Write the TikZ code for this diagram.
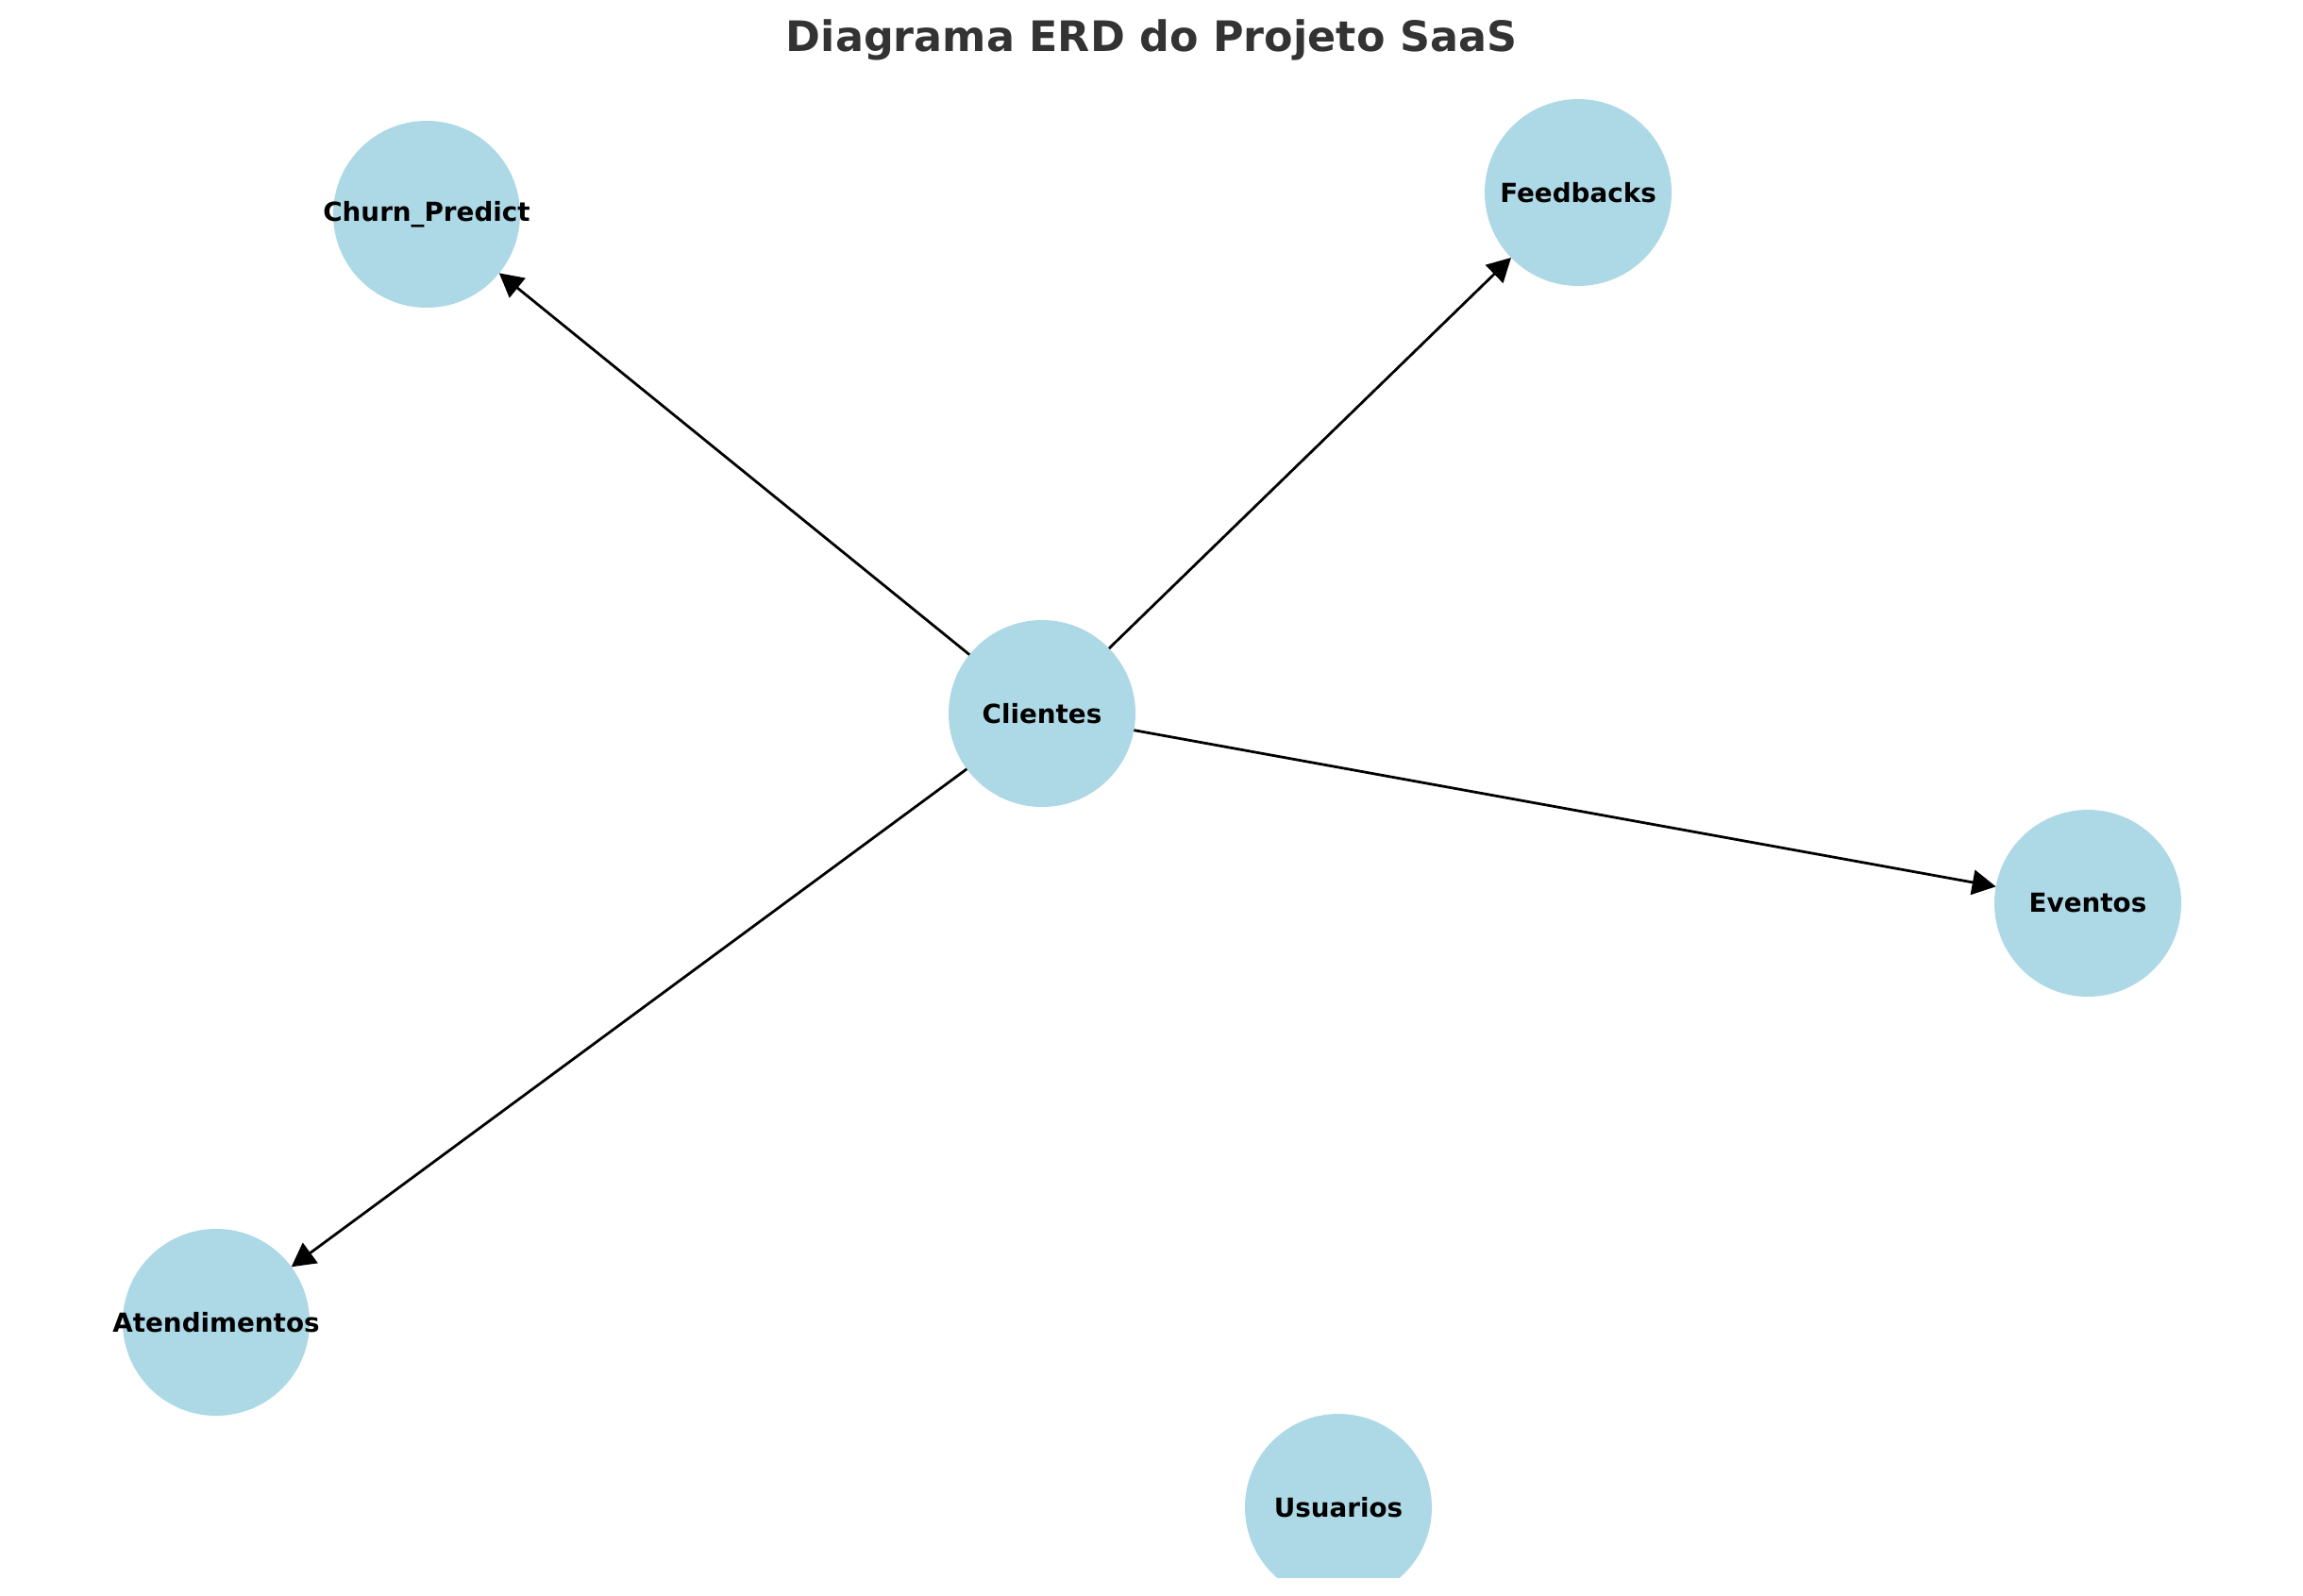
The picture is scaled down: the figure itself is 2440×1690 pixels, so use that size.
\documentclass[tikz,border=0pt]{standalone}
\usepackage{fontspec}
\setmainfont{DejaVu Sans}
\usetikzlibrary{arrows.meta}
\definecolor{entityfill}{HTML}{ADD8E6}
\definecolor{titlegray}{HTML}{333333}
\tikzset{
  entity/.style={circle, fill=entityfill, draw=none, minimum size=71.28pt, inner sep=0pt, outer sep=0pt,
                 label={[font=\fontsize{10}{12}\selectfont\bfseries, text=black, inner sep=0pt]center:#1}},
  relation/.style={-{Triangle[length=9pt,width=9.5pt]}, line width=1pt, black}
}
\begin{document}
\begin{tikzpicture}[x=0.36pt, y=-0.36pt]
  \useasboundingbox (0,0) rectangle (2440,1690);%

  % Title of the diagram
  \node [anchor=base, text=titlegray, font=\fontsize{16}{19}\selectfont\bfseries] (title) at (1220,54) {Diagrama ERD do Projeto SaaS};%

  \begin{scope}
    \clip (0,0) rectangle (2440,1671);%

    % Marking entity Clientes
    \node [entity=Clientes] (clientes) at (1104,756) {};%

    % Marking entity Churn_Predict
    \node [entity=Churn\_Predict] (churn) at (452,227) {};%

    % Marking entity Feedbacks
    \node [entity=Feedbacks] (feedbacks) at (1672,204) {};%

    % Marking entity Eventos
    \node [entity=Eventos] (eventos) at (2212,957) {};%

    % Marking entity Atendimentos
    \node [entity=Atendimentos] (atendimentos) at (229,1401) {};%

    % Marking entity Usuarios
    \node [entity=Usuarios] (usuarios) at (1418,1597) {};%
  \end{scope}

  % Drawing relations from Clientes
  \foreach \target in {churn, feedbacks, eventos, atendimentos}
    \draw [relation] (clientes) -- (\target);%
\end{tikzpicture}
\end{document}
